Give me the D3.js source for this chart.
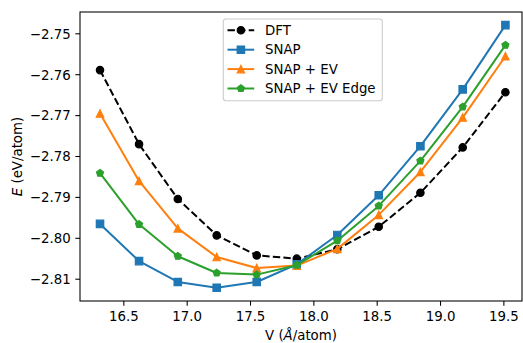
<!DOCTYPE html>
<html>
<head>
<meta charset="utf-8">
<script src="https://cdn.jsdelivr.net/npm/d3@7"></script>
<style>
  html, body { margin: 0; padding: 0; background: #fff; }
  svg { display: block; font-family: "DejaVu Sans", sans-serif; }
</style>
</head>
<body>
<svg id="chart" width="523" height="343"></svg>
<script>
const volumes = [16.316, 16.624, 16.93, 17.237, 17.553, 17.869, 18.189, 18.516, 18.845, 19.179, 19.516];
const dft      = [-2.7590, -2.7771, -2.7905, -2.7994, -2.8043, -2.8051, -2.8028, -2.7973, -2.7890, -2.7779, -2.7644];
const snap     = [-2.7966, -2.8057, -2.8108, -2.8122, -2.8108, -2.8065, -2.7993, -2.7896, -2.7776, -2.7637, -2.7480];
const snapEV   = [-2.7696, -2.7861, -2.7977, -2.8047, -2.8074, -2.8068, -2.8027, -2.7944, -2.7839, -2.7706, -2.7556];
const snapEVEdge = [-2.7842, -2.7967, -2.8045, -2.8086, -2.8090, -2.8067, -2.8007, -2.7922, -2.7812, -2.7680, -2.7529];
const seriesNames = ["DFT", "SNAP", "SNAP + EV", "SNAP + EV Edge"];
const xTicks = [16.5, 17.0, 17.5, 18.0, 18.5, 19.0, 19.5];
const yTicks = [-2.75, -2.76, -2.77, -2.78, -2.79, -2.80, -2.81];

const series = [
  {name: seriesNames[0], values: dft, color: "#000000", marker: "circle", dash: "7.4,3.2"},
  {name: seriesNames[1], values: snap, color: "#1f77b4", marker: "square", dash: null},
  {name: seriesNames[2], values: snapEV, color: "#ff7f0e", marker: "triangle", dash: null},
  {name: seriesNames[3], values: snapEVEdge, color: "#2ca02c", marker: "pentagon", dash: null}
];

const L = 80, R = 522, T = 12, B = 301;
const x = d3.scaleLinear().domain([16.158, 19.647]).range([L, R]);
const y = d3.scaleLinear().domain([-2.81545, -2.74479]).range([B, T]);

const svg = d3.select("#chart");
const fs = 13.33;
const minus = s => s.replace("-", "\u2212");

// markers
const ms = 3.7;
function markerPath(type) {
  if (type === "square") return `M${-ms},${-ms}L${ms},${-ms}L${ms},${ms}L${-ms},${ms}Z`;
  if (type === "triangle") return `M0,${-ms}L${-ms},${ms}L${ms},${ms}Z`;
  if (type === "pentagon") {
    const pts = d3.range(5).map(i => {
      const a = -Math.PI / 2 + i * 2 * Math.PI / 5;
      return [ms * Math.cos(a), ms * Math.sin(a)];
    });
    return "M" + pts.map(p => p.join(",")).join("L") + "Z";
  }
  return null;
}
function drawMarker(g, type, color, cx, cy) {
  if (type === "circle") {
    g.append("circle").attr("cx", cx).attr("cy", cy).attr("r", ms)
      .attr("fill", color).attr("stroke", color).attr("stroke-width", 1.2);
  } else {
    g.append("path").attr("d", markerPath(type))
      .attr("transform", `translate(${cx},${cy})`)
      .attr("fill", color).attr("stroke", color).attr("stroke-width", 1.2)
      .attr("stroke-linejoin", "miter");
  }
}

// axes with ticks
const xAxis = d3.axisBottom(x).tickValues(xTicks).tickSize(4.67).tickPadding(4.67)
  .tickFormat(d => minus(d3.format(".1f")(d)));
const yAxis = d3.axisLeft(y).tickValues(yTicks).tickSize(4.67).tickPadding(4.67)
  .tickFormat(d => minus(d3.format(".2f")(d)));

const gx = svg.append("g").attr("transform", `translate(0,${B})`).call(xAxis);
const gy = svg.append("g").attr("transform", `translate(${L},0)`).call(yAxis);
[gx, gy].forEach(g => {
  g.select(".domain").remove();
  g.selectAll(".tick line").attr("stroke", "#000").attr("stroke-width", 1.07);
  g.selectAll(".tick text").attr("fill", "#000").style("font-size", fs + "px")
    .style("font-family", "DejaVu Sans, sans-serif");
});
gx.selectAll(".tick text").attr("dy", null).attr("y", 19.8);
gy.selectAll(".tick text").attr("dy", "0.36em");

// lines
const plot = svg.append("g");
series.forEach(s => {
  const line = d3.line().x((d, i) => x(volumes[i])).y(d => y(d));
  plot.append("path").datum(s.values).attr("d", line)
    .attr("fill", "none").attr("stroke", s.color).attr("stroke-width", 2)
    .attr("stroke-dasharray", s.dash).attr("stroke-linejoin", "round");
  const mg = plot.append("g");
  s.values.forEach((v, i) => drawMarker(mg, s.marker, s.color, x(volumes[i]), y(v)));
});

// frame
svg.append("rect").attr("x", L).attr("y", T).attr("width", R - L).attr("height", B - T)
  .attr("fill", "none").attr("stroke", "#000").attr("stroke-width", 1.07);

// legend
const lg = svg.append("g");
lg.append("rect").attr("x", 223.3).attr("y", 19).attr("width", 159).attr("height", 81.7)
  .attr("rx", 2.7).attr("fill", "#fff").attr("fill-opacity", 0.8)
  .attr("stroke", "#cccccc").attr("stroke-width", 1.07);
series.forEach((s, i) => {
  const cy = 30.3 + i * 19.4;
  lg.append("line").attr("x1", 227.5).attr("x2", 254.2).attr("y1", cy).attr("y2", cy)
    .attr("stroke", s.color).attr("stroke-width", 2).attr("stroke-dasharray", s.dash);
  drawMarker(lg, s.marker, s.color, 240.9, cy);
  lg.append("text").attr("x", 265).attr("y", cy).attr("dy", "0.36em")
    .style("font-size", fs + "px").attr("fill", "#000").text(s.name);
});

// axis labels
const ylab = svg.append("text").attr("transform", "translate(22.3,156.5) rotate(-90)")
  .attr("text-anchor", "middle").style("font-size", fs + "px");
ylab.append("tspan").attr("font-style", "italic").text("E");
ylab.append("tspan").text(" (eV/atom)");

const xlab = svg.append("text").attr("x", (L + R) / 2).attr("y", 339.5)
  .attr("text-anchor", "middle").style("font-size", fs + "px");
xlab.append("tspan").text("V (");
xlab.append("tspan").attr("font-style", "italic").text("Å");
xlab.append("tspan").text("/atom)");
</script>
</body>
</html>
